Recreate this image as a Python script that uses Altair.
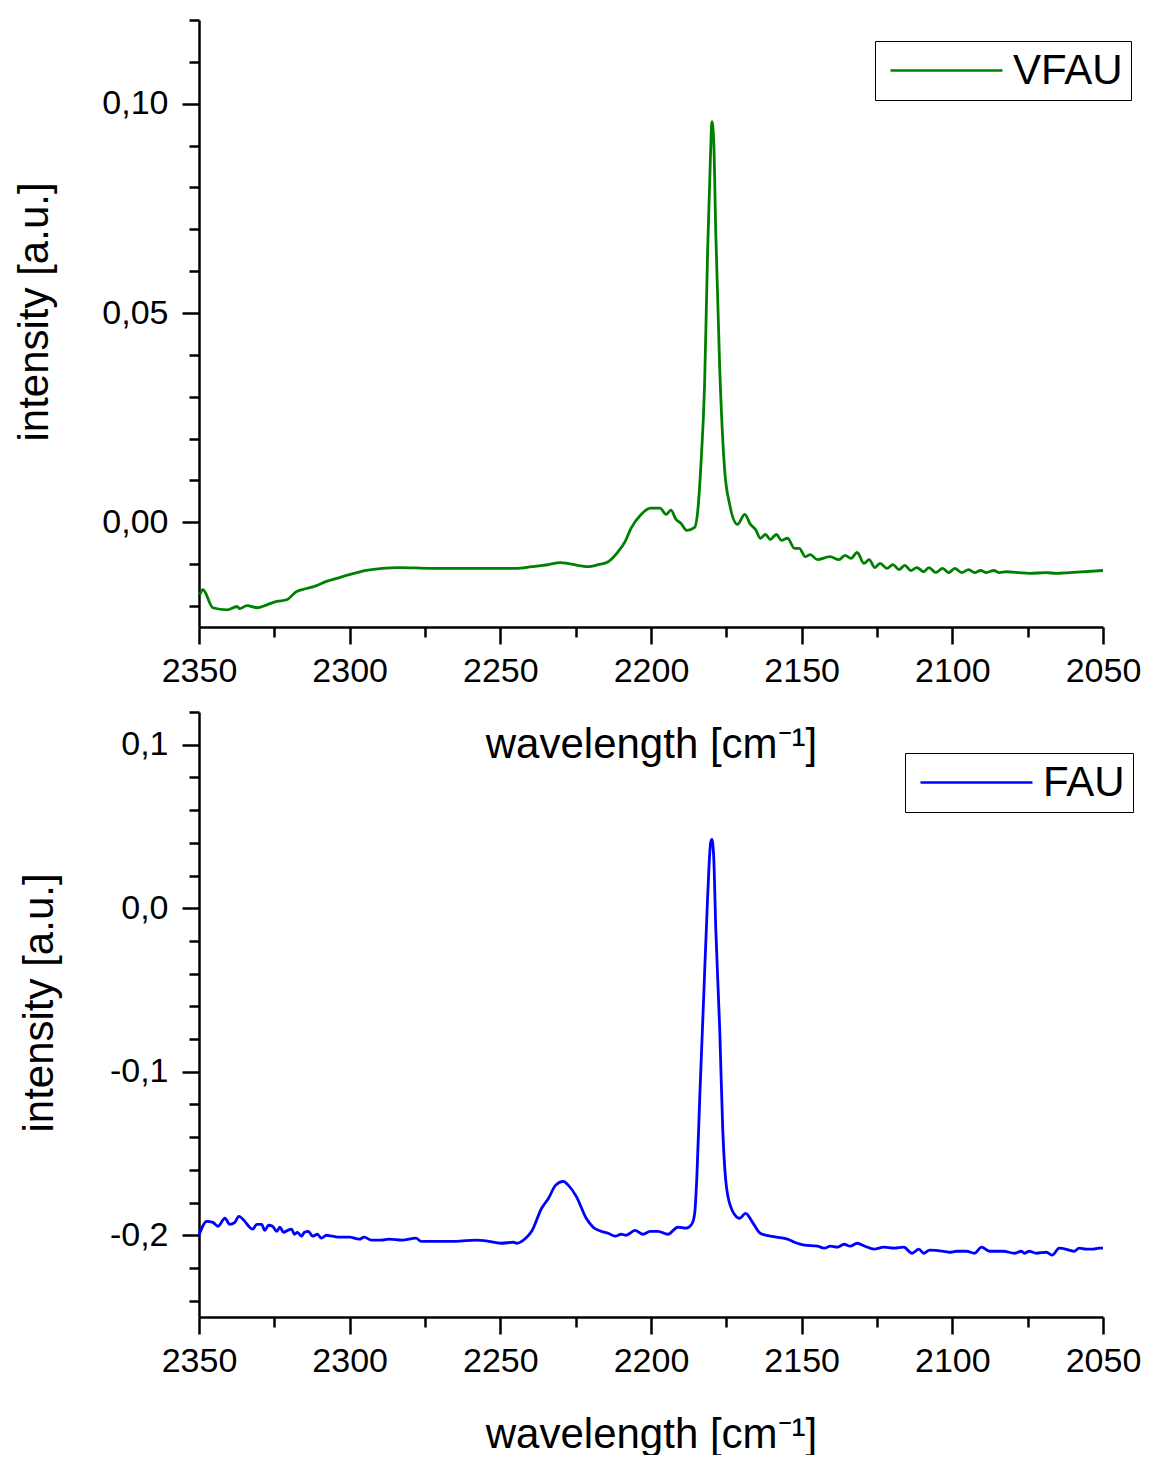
import altair as alt
import pandas as pd

# ---- data: VFAU (top panel) ----
vfau_wn = [2349.7, 2348.7, 2345.4, 2340.7, 2337.4, 2336.5, 2334.1, 2330.8, 2327.5, 2324.2,
           2320.9, 2317.6, 2314.3, 2311.0, 2307.7, 2304.4, 2300.1, 2294.5, 2289.2, 2283.6,
           2272.7, 2256.2, 2244.9, 2239.6, 2234.0, 2230.1, 2220.8, 2217.5, 2214.2, 2210.9,
           2208.6, 2206.6, 2203.3, 2200.0, 2197.0, 2195.0, 2193.4, 2191.7, 2190.1, 2188.1,
           2185.5, 2184.5, 2183.5, 2182.2, 2181.2, 2180.2, 2179.8, 2179.2, 2178.5, 2177.2,
           2175.6, 2173.9, 2171.3, 2168.9, 2167.0, 2165.3, 2163.7, 2162.0, 2160.4, 2158.4,
           2156.7, 2154.7, 2152.4, 2150.8, 2148.8, 2147.1, 2144.8, 2140.6, 2137.6, 2135.6,
           2133.6, 2131.6, 2129.3, 2127.6, 2125.7, 2124.0, 2121.7, 2119.7, 2117.7, 2115.8,
           2113.8, 2111.8, 2109.5, 2107.8, 2105.5, 2103.2, 2101.2, 2099.2, 2096.9, 2094.6,
           2092.6, 2090.6, 2088.7, 2086.3, 2084.4, 2082.0, 2077.8, 2074.5, 2068.8, 2065.5,
           2061.2, 2050.0]
vfau_int = [-0.0173, -0.0161, -0.0204, -0.0209, -0.0201, -0.0206, -0.0199, -0.0204, -0.0197, -0.0189,
            -0.0185, -0.0165, -0.0158, -0.0151, -0.0141, -0.0134, -0.0125, -0.0115, -0.0110, -0.0108,
            -0.0110, -0.0110, -0.0110, -0.0106, -0.0101, -0.0096, -0.0106, -0.0101, -0.0094, -0.0070,
            -0.0046, -0.0014, 0.0019, 0.0034, 0.0034, 0.0019, 0.0029, 0.0007, -0.0002, -0.0019,
            -0.0012, 0.0026, 0.0129, 0.0333, 0.0651, 0.0890, 0.0957, 0.0914, 0.0691, 0.0369,
            0.0129, 0.0043, -0.0005, 0.0019, -0.0005, -0.0017, -0.0038, -0.0029, -0.0041, -0.0029,
            -0.0043, -0.0038, -0.0062, -0.0062, -0.0082, -0.0077, -0.0089, -0.0082, -0.0089, -0.0079,
            -0.0086, -0.0072, -0.0098, -0.0089, -0.0108, -0.0098, -0.0110, -0.0101, -0.0113, -0.0103,
            -0.0115, -0.0108, -0.0118, -0.0108, -0.0120, -0.0110, -0.0120, -0.0110, -0.0120, -0.0113,
            -0.0120, -0.0115, -0.0120, -0.0115, -0.0120, -0.0118, -0.0120, -0.0122, -0.0120, -0.0122,
            -0.0120, -0.0115]

# ---- data: FAU (bottom panel) ----
fau_wn = [2350.0, 2347.4, 2345.4, 2343.7, 2341.4, 2339.8, 2338.1, 2336.8, 2334.8, 2333.5,
          2332.2, 2330.8, 2329.2, 2328.2, 2326.9, 2325.6, 2324.2, 2323.2, 2321.9, 2320.6,
          2319.3, 2318.3, 2317.3, 2316.0, 2315.0, 2313.7, 2312.3, 2310.7, 2309.4, 2307.7,
          2305.7, 2303.4, 2300.1, 2296.8, 2295.2, 2292.8, 2289.5, 2286.9, 2282.6, 2278.0,
          2276.3, 2270.4, 2264.8, 2258.2, 2253.9, 2249.9, 2245.6, 2244.6, 2241.6, 2239.6,
          2236.3, 2234.0, 2231.7, 2229.1, 2227.4, 2224.8, 2221.5, 2219.2, 2216.5, 2214.2,
          2211.9, 2209.9, 2208.3, 2205.3, 2202.6, 2200.3, 2197.7, 2194.4, 2191.1, 2188.4,
          2186.5, 2185.5, 2184.8, 2183.8, 2182.5, 2181.2, 2180.2, 2179.8, 2179.2, 2178.5,
          2177.2, 2176.2, 2174.9, 2172.9, 2170.6, 2168.6, 2166.3, 2163.7, 2160.4, 2154.7,
          2152.4, 2149.1, 2144.8, 2142.5, 2140.5, 2138.2, 2135.9, 2133.9, 2131.6, 2129.0,
          2126.0, 2122.7, 2119.4, 2116.1, 2113.4, 2111.1, 2109.5, 2107.5, 2102.9, 2100.9,
          2098.6, 2095.3, 2092.6, 2090.3, 2087.7, 2083.0, 2079.4, 2077.1, 2076.1, 2074.5,
          2072.1, 2068.8, 2066.9, 2064.5, 2061.2, 2059.6, 2057.9, 2055.6, 2053.3, 2051.3,
          2050.0]
fau_int = [-0.2000, -0.1915, -0.1921, -0.1945, -0.1896, -0.1933, -0.1921, -0.1884, -0.1915, -0.1945,
           -0.1963, -0.1933, -0.1933, -0.1970, -0.1939, -0.1945, -0.1976, -0.1951, -0.1982, -0.1970,
           -0.1963, -0.1994, -0.1982, -0.2006, -0.1982, -0.1976, -0.2006, -0.1994, -0.2018, -0.2000,
           -0.2006, -0.2012, -0.2012, -0.2024, -0.2012, -0.2030, -0.2030, -0.2024, -0.2030, -0.2018,
           -0.2037, -0.2037, -0.2037, -0.2030, -0.2037, -0.2049, -0.2043, -0.2049, -0.2018, -0.1976,
           -0.1835, -0.1774, -0.1695, -0.1671, -0.1695, -0.1762, -0.1896, -0.1951, -0.1976, -0.1988,
           -0.2006, -0.1994, -0.2000, -0.1970, -0.1994, -0.1976, -0.1976, -0.1994, -0.1951, -0.1957,
           -0.1933, -0.1866, -0.1652, -0.1146, -0.0537, 0.0073, 0.0402, 0.0421, 0.0317, -0.0128,
           -0.0738, -0.1348, -0.1713, -0.1854, -0.1896, -0.1866, -0.1921, -0.1988, -0.2006, -0.2024,
           -0.2043, -0.2061, -0.2067, -0.2079, -0.2067, -0.2073, -0.2055, -0.2067, -0.2049, -0.2067,
           -0.2085, -0.2073, -0.2079, -0.2073, -0.2110, -0.2085, -0.2110, -0.2091, -0.2098, -0.2104,
           -0.2098, -0.2098, -0.2110, -0.2073, -0.2098, -0.2098, -0.2110, -0.2098, -0.2110, -0.2098,
           -0.2110, -0.2104, -0.2122, -0.2079, -0.2091, -0.2098, -0.2079, -0.2085, -0.2085, -0.2079,
           -0.2079]

assert len(vfau_wn) == len(vfau_int)
assert len(fau_wn) == len(fau_int)

# ---- tick values ----
x_ticks = list(range(2050, 2351, 25))
top_y_ticks = [round(-0.02 + 0.01 * i, 2) for i in range(15)]
bot_y_ticks = [round(-0.24 + 0.02 * i, 2) for i in range(19)]

FONT = "Liberation Sans"
W, H_TOP, H_BOT = 904, 607, 605
MAJ, MIN = 17, 10


def x_axis():
    test = "datum.value % 50 === 0"
    return alt.Axis(
        values=x_ticks,
        title="wavelength [cm⁻¹]",
        labelExpr=f"{test} ? format(datum.value, 'd') : ''",
        tickSize={"condition": {"test": test, "value": MAJ}, "value": MIN},
        labelFontSize={"condition": {"test": test, "value": 34}, "value": 0},
        labelPadding=10,
        labelFlush=False,
        labelOverlap=False,
        titleY=117,
        titleBaseline="middle",
        grid=False,
    )


def y_axis(ticks, test, fmt, title_x, height):
    return alt.Axis(
        values=ticks,
        title="intensity [a.u.]",
        labelExpr=f"{test} ? replace(replace(format(datum.value, '{fmt}'), '.', ','), '\u2212', '-') : ''",
        tickSize={"condition": {"test": test, "value": MAJ}, "value": MIN},
        labelFontSize={"condition": {"test": test, "value": 34}, "value": 0},
        labelPadding=14,
        labelFlush=False,
        labelOverlap=False,
        titleX=title_x,
        titleY=height / 2 - 12,
        titleBaseline="middle",
        grid=False,
    )


def legend(lx, ly):
    return alt.Legend(
        title=None,
        orient="none",
        legendX=lx,
        legendY=ly,
        strokeColor="black",
        fillColor="white",
        padding=8,
        symbolType="M-2.8,0H2.8",
        symbolSize=1600,
        symbolStrokeWidth=2.5,
        symbolOffset=42,
        labelFontSize=42,
        labelFont=FONT,
        labelColor="black",
        labelOffset=45,
        labelLimit=0,
    )


top_df = pd.DataFrame({"wn": vfau_wn, "intensity": vfau_int, "sample": "VFAU"})
bot_df = pd.DataFrame({"wn": fau_wn, "intensity": fau_int, "sample": "FAU"})

xscale = alt.Scale(domain=[2050, 2350], reverse=True, nice=False, zero=False)

top = alt.Chart(top_df).mark_line(strokeWidth=2.8, interpolate="monotone").encode(
    x=alt.X("wn:Q", scale=xscale, axis=x_axis()),
    y=alt.Y("intensity:Q",
            scale=alt.Scale(domain=[-0.025, 0.12], nice=False, zero=False),
            axis=y_axis(top_y_ticks, "abs(round(datum.value*100)) % 5 === 0", ".2f", -165, H_TOP)),
    color=alt.Color("sample:N", scale=alt.Scale(domain=["VFAU"], range=["#008000"]),
                    legend=legend(676, 21)),
).properties(width=W, height=H_TOP)

bottom = alt.Chart(bot_df).mark_line(strokeWidth=2.8, interpolate="monotone").encode(
    x=alt.X("wn:Q", scale=xscale, axis=x_axis()),
    y=alt.Y("intensity:Q",
            scale=alt.Scale(domain=[-0.25, 0.12], nice=False, zero=False),
            axis=y_axis(bot_y_ticks, "abs(round(datum.value*50)) % 5 === 0", ".1f", -160, H_BOT)),
    color=alt.Color("sample:N", scale=alt.Scale(domain=["FAU"], range=["#0000ff"]),
                    legend=legend(706, 41)),
).properties(width=W, height=H_BOT)

chart = alt.vconcat(top, bottom, spacing=85, bounds="flush").resolve_scale(
    color="independent", y="independent"
).properties(
    padding={"left": 5, "top": 10, "right": 0, "bottom": 0}
).configure_view(stroke=None).configure_axis(
    domainColor="black",
    domainWidth=2.5,
    tickColor="black",
    tickWidth=2.5,
    labelFont=FONT,
    labelFontSize=34,
    labelColor="black",
    titleFont=FONT,
    titleFontSize=42,
    titleFontWeight="normal",
    titleColor="black",
)

chart.save("out.html", embed_options={"renderer": "svg", "actions": False})
